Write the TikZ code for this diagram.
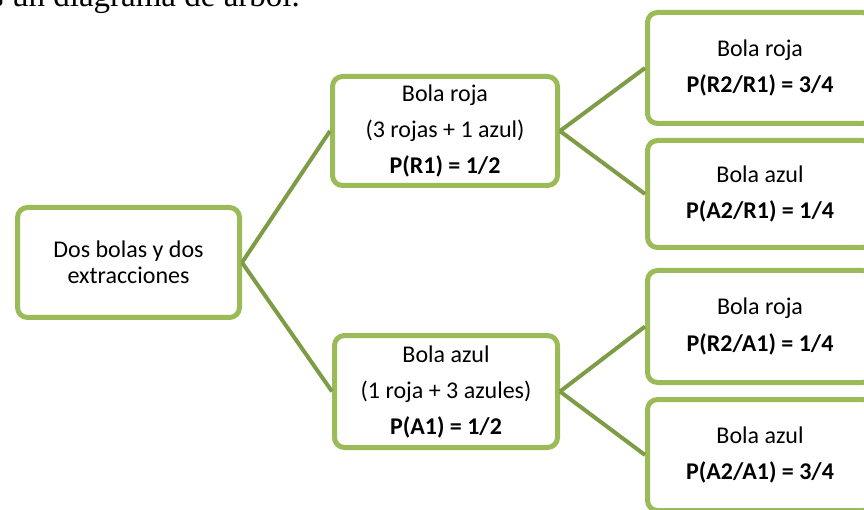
\documentclass[tikz,border=0pt]{standalone}
\usepackage{fontspec}
\setmainfont{Carlito}
\newfontfamily\serifnote{Liberation Serif}
\definecolor{boxgreen}{HTML}{9BBB59}
\definecolor{linkgreen}{HTML}{7E9C45}
\begin{document}
\begin{tikzpicture}[x=1pt,y=-1pt,
  box/.style={draw=boxgreen, line width=5pt, rounded corners=10pt, fill=white,
    align=center, inner sep=0pt, font=\fontsize{24}{36}\selectfont},
  rbox/.style={box, minimum width=225pt, font=\fontsize{24}{36.5}\selectfont},
  link/.style={draw=linkgreen, line width=4pt}]
\useasboundingbox (0,0) rectangle (864,510);
\node[anchor=base east, inner sep=0pt, font=\serifnote\fontsize{33}{40}\selectfont] (intro) at (300,7) {es un diagrama de árbol.};
\node[box, minimum width=222pt, minimum height=110pt, font=\fontsize{24}{26}\selectfont] (root) at (128.5,262.5) {Dos bolas y dos\\extracciones};
\node[box, minimum width=225pt, minimum height=109pt] (r1) at (445,131) {Bola roja\\(3 rojas + 1 azul)\\\textbf{P(R1) = 1/2}};
\node[box, minimum width=223pt, minimum height=112pt] (a1) at (446,391.5) {Bola azul\\(1 roja + 3 azules)\\\textbf{P(A1) = 1/2}};
\node[rbox, minimum height=111pt] (r1r2) at (760,68) {Bola roja\\\textbf{P(R2/R1) = 3/4}};
\node[rbox, minimum height=107pt] (r1a2) at (760,194) {Bola azul\\\textbf{P(A2/R1) = 1/4}};
\node[rbox, minimum height=112pt] (a1r2) at (760,326.5) {Bola roja\\\textbf{P(R2/A1) = 1/4}};
\node[rbox, minimum height=111pt] (a1a2) at (760,455) {Bola azul\\\textbf{P(A2/A1) = 3/4}};
\draw[link] (root.east) -- (r1.west);
\draw[link] (root.east) -- (a1.west);
\draw[link] (r1.east) -- (r1r2.west);
\draw[link] (r1.east) -- (r1a2.west);
\draw[link] (a1.east) -- (a1r2.west);
\draw[link] (a1.east) -- (a1a2.west);
\end{tikzpicture}
\end{document}
